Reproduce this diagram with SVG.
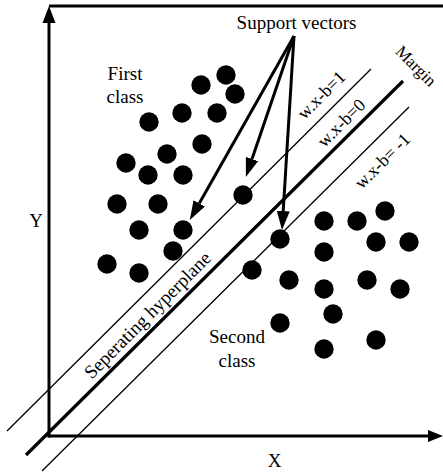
<svg xmlns="http://www.w3.org/2000/svg" width="443" height="473" viewBox="0 0 443 473">
  <style>
    .lbl { font-family: "Liberation Serif", "Times New Roman", serif; font-size: 19px; fill: #000; }
    .rot { font-size: 18px; }
    .mid { text-anchor: middle; }
    .axis { stroke: #000; stroke-width: 3; fill: none; }
    .thin { stroke: #000; stroke-width: 1.3; fill: none; }
    .thick { stroke: #000; stroke-width: 3.2; fill: none; }
    .arrow { stroke: #000; stroke-width: 3; fill: none; marker-end: url(#head); }
    .pt { fill: #000; }
  </style>
  <defs>
    <marker id="head" markerUnits="userSpaceOnUse" markerWidth="19" markerHeight="13" refX="0" refY="6.5" orient="auto">
      <path d="M0,0 L19,6.5 L0,13 Z" fill="#000"/>
    </marker>
  </defs>
  <rect width="443" height="473" fill="#fff"/>

  <g id="axes">
    <line class="axis" x1="49" y1="6" x2="443" y2="6"/>
    <line class="axis" x1="49" y1="437.5" x2="49" y2="22"/>
    <path d="M49,6 L42.5,23 L55.5,23 Z" fill="#000"/>
    <line class="axis" x1="47.5" y1="436" x2="430" y2="436"/>
    <path d="M443,436 L428,430 L428,442 Z" fill="#000"/>
    <text class="lbl mid" x="36" y="226.5">Y</text>
    <text class="lbl mid" x="274.5" y="466.5">X</text>
  </g>

  <g id="connectors">
    <line id="margin-plus" class="thin" x1="7" y1="431" x2="371" y2="69"/>
    <line id="hyperplane" class="thick" x1="26" y1="455" x2="403" y2="81"/>
    <line id="margin-minus" class="thin" x1="42" y1="471" x2="409" y2="107"/>
    <line id="sv-arrow-1" class="arrow" x1="294" y1="36" x2="199.2" y2="203.4"/>
    <line id="sv-arrow-2" class="arrow" x1="294" y1="36" x2="252" y2="159"/>
    <line id="sv-arrow-3" class="arrow" x1="294" y1="36" x2="283.2" y2="211"/>
  </g>

  <g id="first-class">
    <circle class="pt" cx="226" cy="75" r="9.7"/>
    <circle class="pt" cx="201" cy="85" r="9.7"/>
    <circle class="pt" cx="235" cy="94" r="9.7"/>
    <circle class="pt" cx="182" cy="113" r="9.7"/>
    <circle class="pt" cx="217" cy="113" r="9.7"/>
    <circle class="pt" cx="149" cy="122" r="9.7"/>
    <circle class="pt" cx="202" cy="144" r="9.7"/>
    <circle class="pt" cx="167" cy="154" r="9.7"/>
    <circle class="pt" cx="126" cy="163" r="9.7"/>
    <circle class="pt" cx="148" cy="175" r="9.7"/>
    <circle class="pt" cx="183" cy="175" r="9.7"/>
    <circle class="pt" cx="117" cy="204" r="9.7"/>
    <circle class="pt" cx="158" cy="204" r="9.7"/>
    <circle class="pt" cx="139" cy="230" r="9.7"/>
    <circle class="pt" cx="183" cy="230" r="9.7"/>
    <circle class="pt" cx="173" cy="251" r="9.7"/>
    <circle class="pt" cx="107" cy="264" r="9.7"/>
    <circle class="pt" cx="139" cy="273" r="9.7"/>
    <circle class="pt" cx="243" cy="195" r="9.7"/>
  </g>

  <g id="second-class">
    <circle class="pt" cx="280" cy="239" r="9.7"/>
    <circle class="pt" cx="252" cy="270" r="9.7"/>
    <circle class="pt" cx="324" cy="221" r="9.7"/>
    <circle class="pt" cx="357" cy="221" r="9.7"/>
    <circle class="pt" cx="385" cy="211" r="9.7"/>
    <circle class="pt" cx="376" cy="242" r="9.7"/>
    <circle class="pt" cx="409" cy="242" r="9.7"/>
    <circle class="pt" cx="324" cy="252" r="9.7"/>
    <circle class="pt" cx="289" cy="280" r="9.7"/>
    <circle class="pt" cx="324" cy="289" r="9.7"/>
    <circle class="pt" cx="367" cy="280" r="9.7"/>
    <circle class="pt" cx="400" cy="289" r="9.7"/>
    <circle class="pt" cx="333" cy="314" r="9.7"/>
    <circle class="pt" cx="280" cy="323" r="9.7"/>
    <circle class="pt" cx="376" cy="340" r="9.7"/>
    <circle class="pt" cx="324" cy="349" r="9.7"/>
  </g>

  <g id="labels">
    <text class="lbl mid" x="296.5" y="29">Support vectors</text>
    <text class="lbl mid" x="125" y="80">First</text>
    <text class="lbl mid" x="125" y="103">class</text>
    <text class="lbl mid" x="237" y="343.3">Second</text>
    <text class="lbl mid" x="237" y="366.7">class</text>
    <text class="lbl rot mid" style="font-size:17px" transform="translate(412,70) rotate(45)">Margin</text>
    <text class="lbl rot mid" transform="translate(325.6,99.1) rotate(-45)">w.x-b=1</text>
    <text class="lbl rot mid" transform="translate(345.6,127.1) rotate(-45)">w.x-b=0</text>
    <text class="lbl rot mid" transform="translate(386.6,165.1) rotate(-45)">w.x-b= -1</text>
    <text class="lbl mid" transform="translate(152,319.6) rotate(-45)">Seperating hyperplane</text>
  </g>
</svg>
